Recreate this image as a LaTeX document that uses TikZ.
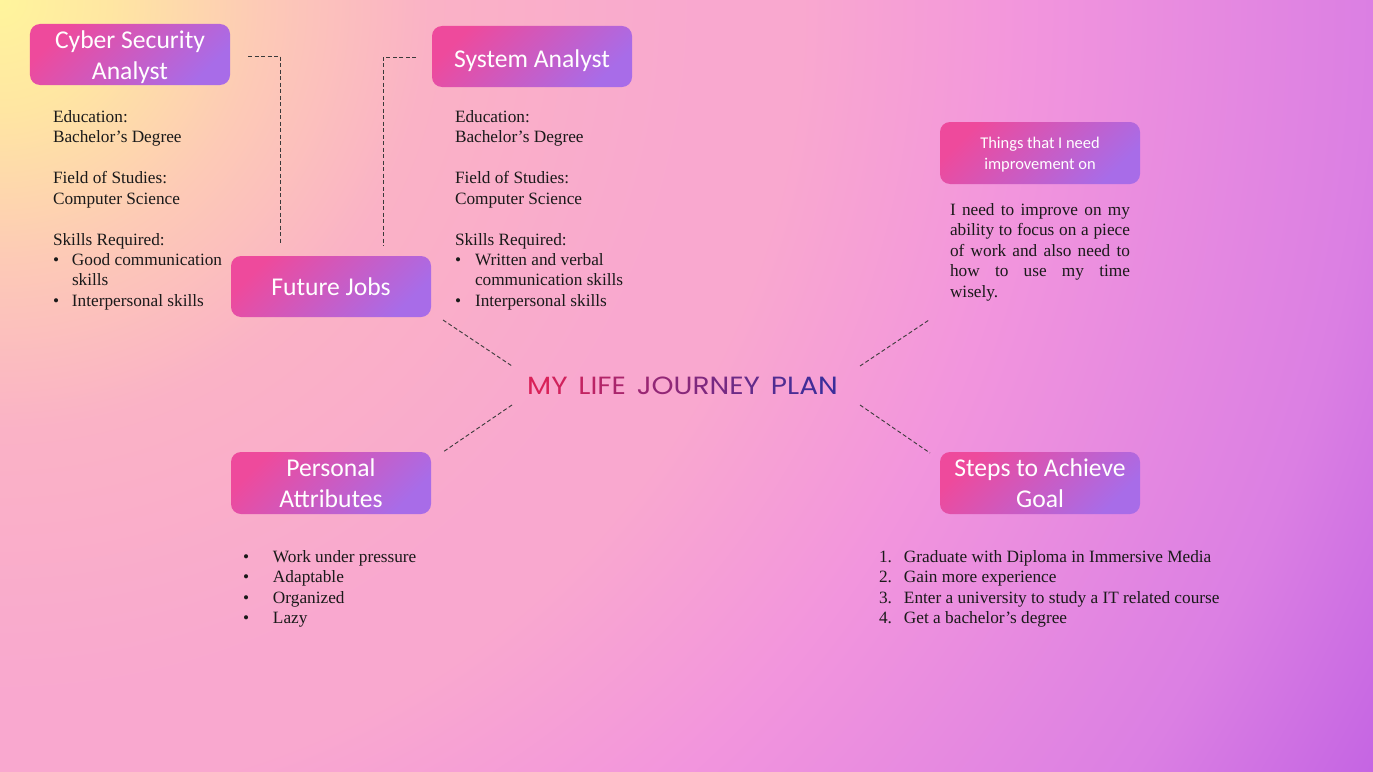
\documentclass[tikz,border=0pt]{standalone}
\usepackage{graphicx}
\usepackage{fontspec}
\setmainfont{Liberation Serif}
\newfontfamily\boxfont{Carlito}
\newfontfamily\titlefont{Poppins}
\definecolor{bgA}{HTML}{FFF59C}
\definecolor{bgB}{HTML}{FFE6A2}
\definecolor{bgC}{HTML}{FDCAB6}
\definecolor{bgD}{HTML}{FAB2C6}
\definecolor{bgE}{HTML}{F9A8CF}
\definecolor{bgF}{HTML}{F295DD}
\definecolor{bgG}{HTML}{DB7FE3}
\definecolor{bgH}{HTML}{C464E3}
\definecolor{boxpink}{HTML}{EE4A9C}
\definecolor{boxpurple}{HTML}{A86CE8}
\definecolor{txt}{HTML}{1A1A1A}
\definecolor{dashc}{HTML}{3A3A3A}
\definecolor{tA}{HTML}{D92158}
\definecolor{tB}{HTML}{3B2E9B}
\pgfdeclareradialshading{bgshade}{\pgfpoint{0bp}{0bp}}{color(0bp)=(bgA); color(110bp)=(bgB); color(260bp)=(bgC); color(430bp)=(bgD); color(700bp)=(bgE); color(800bp)=(bgE); color(1030bp)=(bgF); color(1373bp)=(bgG); color(1580bp)=(bgH); color(1600bp)=(bgH)}
\tikzset{
  labelbox/.style={rounded corners=10bp, top color=boxpink, bottom color=boxpurple, shading angle=45,
    minimum width=200bp, minimum height=61bp, inner sep=0pt, text=white, align=center,
    font=\boxfont\fontsize{25.7}{31}\selectfont},
  smallbox/.style={labelbox, minimum height=62bp, font=\boxfont\fontsize{16.5}{21}\selectfont},
  body/.style={anchor=north west, inner sep=0pt, outer sep=0pt, align=left, text=txt,
    font=\fontsize{17.33}{20.5}\selectfont},
  conn/.style={draw=dashc, line width=0.9bp, dash pattern=on 4bp off 2.5bp},
}
\newcommand{\bul}[1]{\makebox[#1][l]{\textbullet}}
\newcommand{\jline}[1]{\makebox[180bp][s]{#1}}
\newcommand{\up}[1]{\rule{0pt}{#1}}
\begin{document}
\begin{tikzpicture}[x=1bp,y=-1bp]
\useasboundingbox (0,0) rectangle (1373,771);
\begin{scope}
  \clip (0,0) rectangle (1373,771);
  \node[inner sep=0pt, outer sep=0pt] (bg) at (0,0) {\pgfuseshading{bgshade}};
\end{scope}

% label boxes
\node[labelbox] (cyber) at (130,54.5) {\up{23bp}Cyber Security\\Analyst};
\node[labelbox] (sysan) at (532,56.5) {\up{26bp}System Analyst};
\node[labelbox] (jobs) at (331,286.5) {Future Jobs};
\node[smallbox] (improve) at (1040,153) {\up{14.5bp}Things that I need\\improvement on};
\node[labelbox, minimum height=62bp] (attrib) at (331,483) {Personal\\Attributes};
\node[labelbox, minimum height=62bp] (steps) at (1040,483) {Steps to Achieve\\Goal};

% title
\node[anchor=base, inner sep=0pt, font=\titlefont\fontsize{25}{30}\selectfont\addfontfeature{LetterSpace=12}] (title) at (682.5,394)
 {\scalebox{1.125}[1]{\textcolor{tA!100!tB}{M}\textcolor{tA!94!tB}{Y} \textcolor{tA!86!tB}{L}\textcolor{tA!81!tB}{I}\textcolor{tA!76!tB}{F}\textcolor{tA!70!tB}{E} \textcolor{tA!60!tB}{J}\textcolor{tA!55!tB}{O}\textcolor{tA!49!tB}{U}\textcolor{tA!43!tB}{R}\textcolor{tA!37!tB}{N}\textcolor{tA!31!tB}{E}\textcolor{tA!25!tB}{Y} \textcolor{tA!14!tB}{P}\textcolor{tA!9!tB}{L}\textcolor{tA!4!tB}{A}\textcolor{tA!0!tB}{N}}};

% text blocks
\node[body] (cyberinfo) at (53,108.15) {\strut Education:\\Bachelor’s Degree\\[20.5bp]Field of Studies:\\Computer Science\\[20.5bp]Skills Required:\\\bul{19bp}Good communication\\\hspace*{19bp}skills\\\bul{19bp}Interpersonal skills};
\node[body] (sysinfo) at (455,108.15) {\strut Education:\\Bachelor’s Degree\\[20.5bp]Field of Studies:\\Computer Science\\[20.5bp]Skills Required:\\\bul{20bp}Written and verbal\\\hspace*{20bp}communication skills\\\bul{20bp}Interpersonal skills};
\node[body] (impinfo) at (950,201.15) {\strut\jline{I need to improve on my}\\\jline{ability to focus on a piece}\\\jline{of work and also need to}\\\jline{how to use my time}\\wisely.};
\node[body] (attribinfo) at (243,548.15) {\strut\bul{30bp}Work under pressure\\\bul{30bp}Adaptable\\\bul{30bp}Organized\\\bul{30bp}Lazy};
\node[body] (stepsinfo) at (879,548.15) {\strut\makebox[25bp][l]{1.}Graduate with Diploma in Immersive Media\\\makebox[25bp][l]{2.}Gain more experience\\\makebox[25bp][l]{3.}Enter a university to study a IT related course\\\makebox[25bp][l]{4.}Get a bachelor’s degree};

% connectors
\coordinate (c1a) at (248,56);  \coordinate (c1b) at (280,245);
\coordinate (c2a) at (416,57);  \coordinate (c2b) at (383,246);
\coordinate (c3a) at (443,320); \coordinate (c3b) at (512,366);
\coordinate (c4a) at (860,366); \coordinate (c4b) at (929,320);
\coordinate (c5a) at (512,405); \coordinate (c5b) at (443,452);
\coordinate (c6a) at (860,405); \coordinate (c6b) at (930,453);
\draw[conn] (c1a) -| (c1b);
\draw[conn] (c2a) -| (c2b);
\draw[conn] (c3a) -- (c3b);
\draw[conn] (c4a) -- (c4b);
\draw[conn] (c5a) -- (c5b);
\draw[conn] (c6a) -- (c6b);
\end{tikzpicture}
\end{document}
